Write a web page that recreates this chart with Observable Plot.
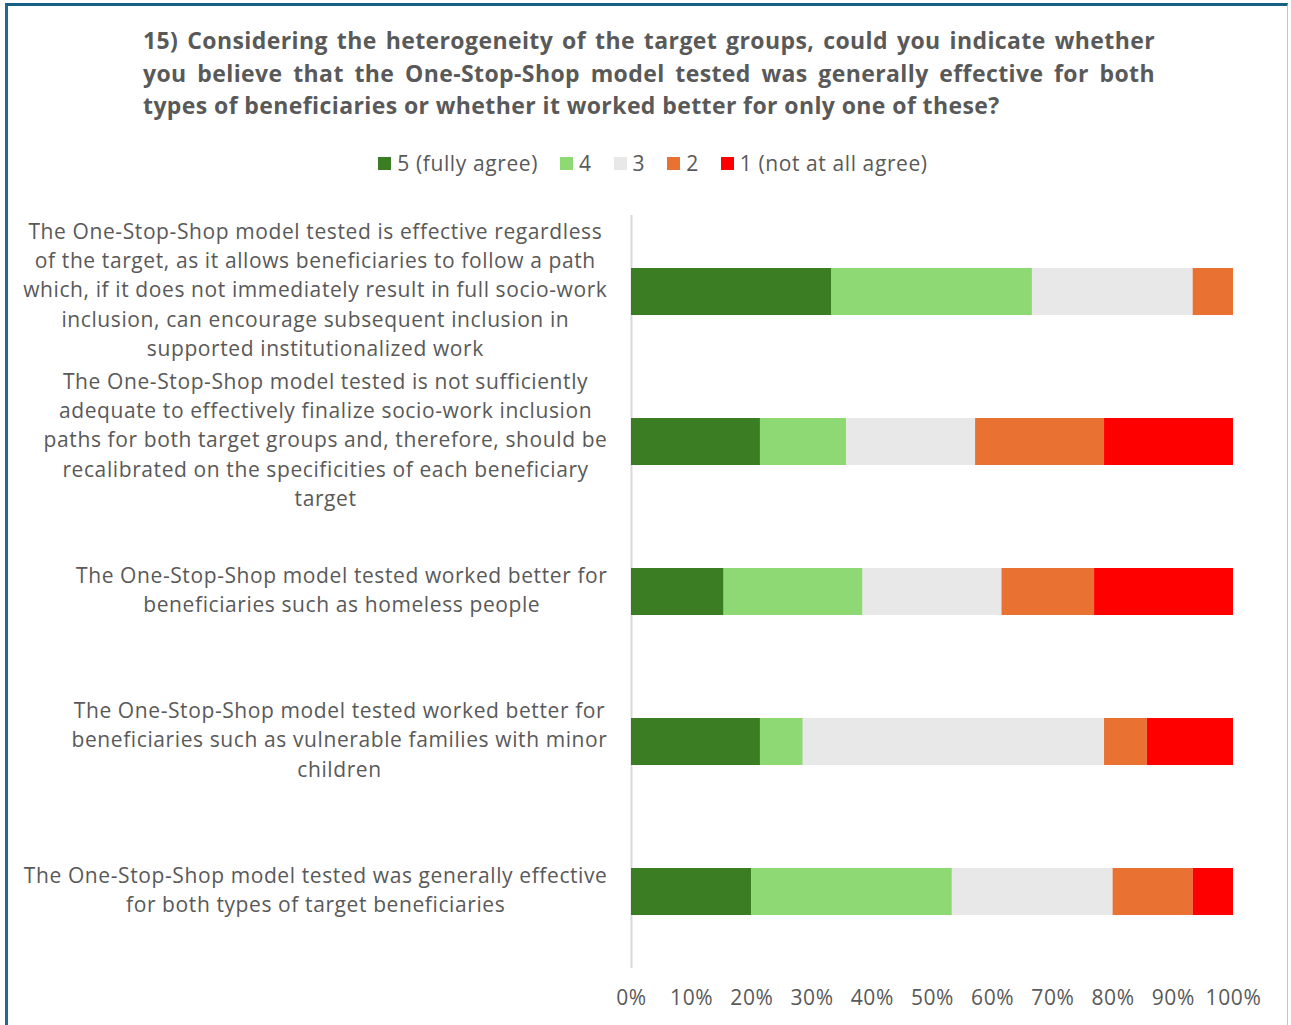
<!DOCTYPE html>
<html>
<head>
<meta charset="utf-8">
<script src="https://cdn.jsdelivr.net/npm/d3@7"></script>
<script src="https://cdn.jsdelivr.net/npm/@observablehq/plot@0.6"></script>
<style>
  html, body { margin: 0; padding: 0; background: #fff; }
  #page { position: relative; width: 1291px; height: 1025px; overflow: hidden; font-family: "Open Sans", "Liberation Sans", sans-serif; color: #595959; }
  #frame { position: absolute; left: 5px; top: 3px; width: 1283px; height: 1040px; border-top: 3px solid #175f84; border-left: 3px solid #1f6b93; border-right: 1px solid #b9cad6; box-sizing: border-box; }
  #title { position: absolute; left: 143px; top: 24px; width: 1012px; font-weight: 700; font-size: 23px; line-height: 32.5px; letter-spacing: 0.4px; color: #595959; }
  #title .j { text-align: justify; text-align-last: justify; }
  #legend { position: absolute; left: 15px; top: 149px; width: 1276px; display: flex; justify-content: center; align-items: center; font-size: 21px; line-height: 28px; letter-spacing: 0.6px; }
  #legend .item { display: flex; align-items: center; margin-right: 22px; }
  #legend .item:last-child { margin-right: 0; }
  #legend .sw { width: 13px; height: 13px; margin-right: 6px; }
  #chart { position: absolute; left: 0; top: 190px; }
  #chart svg { overflow: visible; }
</style>
</head>
<body>
<div id="page">
  <div id="frame"></div>
  <div id="title">
    <div class="j">15) Considering the heterogeneity of the target groups, could you indicate whether</div>
    <div class="j">you believe that the One-Stop-Shop model tested was generally effective for both</div>
    <div>types of beneficiaries or whether it worked better for only one of these?</div>
  </div>
  <div id="legend"></div>
  <div id="chart"></div>
</div>
<script>
// Answer scale, from most to least agreement
const levels = ["5 (fully agree)", "4", "3", "2", "1 (not at all agree)"];
const levelColors = ["#3b7d23", "#8ed973", "#e8e8e8", "#e97132", "#ff0000"];

// Statements (line breaks as wrapped in the label column)
const statements = [
  "The One-Stop-Shop model tested is effective regardless\nof the target, as it allows beneficiaries to follow a path\nwhich, if it does not immediately result in full socio-work\ninclusion, can encourage subsequent inclusion in\nsupported institutionalized work",
  "The One-Stop-Shop model tested is not sufficiently\nadequate to effectively finalize socio-work inclusion\npaths for both target groups and, therefore, should be\nrecalibrated on the specificities of each beneficiary\ntarget",
  "The One-Stop-Shop model tested worked better for\nbeneficiaries such as homeless people",
  "The One-Stop-Shop model tested worked better for\nbeneficiaries such as vulnerable families with minor\nchildren",
  "The One-Stop-Shop model tested was generally effective\nfor both types of target beneficiaries"
];

// Share of answers (%) per statement, one array per level
const fullyAgree = [33.3, 21.4, 15.4, 21.4, 20.0];
const agree      = [33.3, 14.3, 23.1,  7.1, 33.3];
const neutral    = [26.7, 21.4, 23.1, 50.0, 26.7];
const disagree   = [ 6.7, 21.4, 15.4,  7.1, 13.3];
const notAtAll   = [ 0.0, 21.4, 23.1, 14.3,  6.7];

const xTicks = [0, 0.1, 0.2, 0.3, 0.4, 0.5, 0.6, 0.7, 0.8, 0.9, 1];

const series = [fullyAgree, agree, neutral, disagree, notAtAll];
const rows = [];
statements.forEach((s, i) => {
  series.forEach((vals, k) => rows.push({statement: s, level: levels[k], value: vals[i]}));
});

const fontFamily = '"Open Sans", "Liberation Sans", sans-serif';
const tracking = 0.6;

// Legend
const legend = document.getElementById("legend");
levels.forEach((l, k) => {
  const it = document.createElement("div");
  it.className = "item";
  it.innerHTML = `<div class="sw" style="background:${levelColors[k]}"></div><span>${l}</span>`;
  legend.appendChild(it);
});

// Category labels: each block centred on its widest line, right edge aligned
const ctx = document.createElement("canvas").getContext("2d");
ctx.font = `21px ${fontFamily}`;
const marginLeft = 631;
const labelRight = 607;
const labelMarks = statements.map(s => {
  const w = d3.max(s.split("\n"), line => ctx.measureText(line).width + line.length * tracking);
  return Plot.text([s], {
    y: d => d, text: d => d, frameAnchor: "left", textAnchor: "middle",
    dx: (labelRight - marginLeft) - w / 2, dy: -4,
    lineHeight: 1.4, fontSize: 21, fill: "#595959"
  });
});

const chart = Plot.plot({
  width: 1291,
  height: 823,
  marginLeft,
  marginRight: 58,
  marginTop: 25,
  marginBottom: 45,
  style: {fontFamily, fontSize: "21px", color: "#595959", background: "transparent", letterSpacing: `${tracking}px`},
  x: {domain: [0, 1], ticks: xTicks, tickFormat: d3.format(".0%"), tickSize: 0, tickPadding: 22, label: null},
  y: {domain: statements, axis: null, paddingInner: 0.69, paddingOuter: 0.345},
  color: {domain: levels, range: levelColors},
  marks: [
    Plot.ruleX([0], {stroke: "#d9d9d9", strokeWidth: 2}),
    Plot.barX(rows, Plot.stackX({x: "value", y: "statement", fill: "level", order: levels, offset: "normalize", inset: 0})),
    ...labelMarks
  ]
});
document.getElementById("chart").appendChild(chart);
</script>
</body>
</html>
